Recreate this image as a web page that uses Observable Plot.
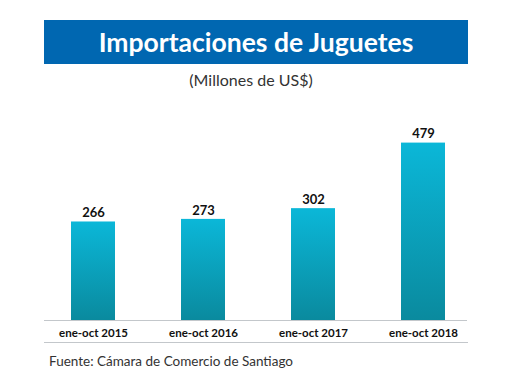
<!DOCTYPE html>
<html>
<head>
<meta charset="utf-8">
<script src="https://cdn.jsdelivr.net/npm/d3@7"></script>
<script src="https://cdn.jsdelivr.net/npm/@observablehq/plot@0.6"></script>
<style>
  body { margin: 0; background: #fff; }
  #wrap { position: relative; width: 520px; height: 390px; overflow: hidden; background: #fff; font-family: Lato, "Open Sans", sans-serif; }
  #banner { position: absolute; left: 44px; top: 20px; width: 424px; height: 44px; background: #0067b1;
    color: #fff; font-weight: 700; font-size: 26.5px; line-height: 44px; text-align: center; }
  #sub { position: absolute; left: 44px; top: 70px; width: 414px; text-align: center; font-size: 16px; color: #333; }
  #chart { position: absolute; left: 0; top: 100px; }
  #line2 { position: absolute; left: 44px; top: 342px; width: 424px; height: 0; border-top: 1px solid #c3c7cb; }
  #src { position: absolute; left: 49px; top: 353px; font-size: 13.5px; color: #333; }
</style>
</head>
<body>
<div id="wrap">
  <div id="banner">Importaciones de Juguetes</div>
  <div id="sub">(Millones de US$)</div>
  <div id="chart"></div>
  <div id="line2"></div>
  <div id="src">Fuente: Cámara de Comercio de Santiago</div>
</div>
<script>
const periods = ["ene-oct 2015", "ene-oct 2016", "ene-oct 2017", "ene-oct 2018"];
const values = [266, 273, 302, 479];

const data = periods.map((p, i) => ({period: p, value: values[i]}));

const plot = Plot.plot({
  width: 520,
  height: 242,
  marginLeft: 49,
  marginRight: 53,
  marginTop: 20,
  marginBottom: 22,
  style: {fontFamily: "Lato, 'Open Sans', sans-serif", background: "transparent"},
  x: {domain: periods, paddingInner: 0.6, paddingOuter: 0.2, label: null},
  y: {domain: [0, 540], axis: null},
  marks: [
    Plot.barY(data, {x: "period", y: "value", fill: "url(#barGrad)"}),
    Plot.ruleY([0], {stroke: "#c3c7cb", strokeWidth: 1.2, insetLeft: -5}),
    Plot.text(data, {x: "period", y: "value", text: d => String(d.value), dy: -9,
      fontWeight: "bold", fontSize: 13, fill: "#111"}),
    Plot.axisX({tickSize: 0, tickPadding: 8, fontWeight: "bold", fontSize: 11.5, color: "#111", label: null})
  ]
});

const svg = d3.select(plot);
const defs = svg.insert("defs", ":first-child");
const g = defs.append("linearGradient").attr("id", "barGrad")
  .attr("x1", 0).attr("y1", 0).attr("x2", 0).attr("y2", 1);
g.append("stop").attr("offset", "0%").attr("stop-color", "#0bb7d8");
g.append("stop").attr("offset", "100%").attr("stop-color", "#0a8a9e");

document.getElementById("chart").appendChild(plot);
</script>
</body>
</html>
